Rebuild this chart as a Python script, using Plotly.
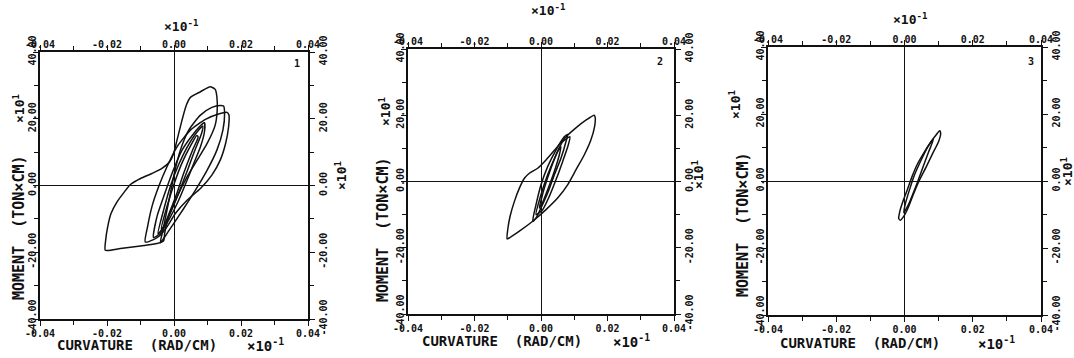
import plotly.graph_objects as go

W, H = 1074, 358

# ---- tick values / labels ----
curv_ticks = [-0.04, -0.02, 0.0, 0.02, 0.04]
curv_labels = ["-0.04", "-0.02", "0.00", "0.02", "0.04"]
mom_ticks = [-40, -20, 0, 20, 40]
mom_labels = ["-40.00", "-20.00", "0.00", "20.00", "40.00"]

# ---- panel 1 hysteresis loops (curvature x10^-1 rad/cm, moment x10 ton*cm) ----
loop1a_curv = [0.0108, 0.0123, 0.0128, 0.0129, 0.0123, 0.0099, 0.0069, 0.0039, 0.0009, -0.0016,
               -0.0028, -0.0031, -0.0051, -0.0100, -0.0160, -0.0205, -0.0204, -0.0198, -0.0188,
               -0.0170, -0.0148, -0.0130, -0.0100, -0.0066, -0.0036, -0.0013, -0.0001, 0.0009,
               0.0024, 0.0037, 0.0049, 0.0079, 0.0108]
loop1a_mom = [29.6, 28.8, 26.6, 22.6, 18.1, 12.6, 7.6, 2.6, -3.4, -9.4,
              -14.4, -16.6, -17.4, -18.1, -18.9, -19.4, -16.4, -12.4, -8.4,
              -4.9, -1.9, 0.3, 2.1, 3.6, 5.1, 7.1, 9.6, 13.6,
              19.6, 24.1, 26.4, 28.1, 29.6]

loop1b_curv = [-0.0041, -0.0033, -0.0023, -0.0011, 0.0001, 0.0019, 0.0044, 0.0079, 0.0113, 0.0138,
               0.0148, 0.0151, 0.0146, 0.0128, 0.0099, 0.0064, 0.0029, -0.0001, -0.0021, -0.0041]
loop1b_mom = [-17.2, -13.4, -8.4, -2.4, 3.6, 10.6, 16.6, 21.1, 23.4, 24.0,
              23.8, 21.6, 16.6, 10.6, 4.6, -1.4, -6.9, -11.4, -14.4, -17.2]

loop1c_curv = [-0.0086, -0.0079, -0.0066, -0.0046, -0.0021, 0.0009, 0.0049, 0.0094, 0.0133, 0.0158,
               0.0164, 0.0163, 0.0154, 0.0138, 0.0113, 0.0079, 0.0039, 0.0004, -0.0021, -0.0041,
               -0.0061, -0.0086]
loop1c_mom = [-16.9, -12.4, -6.4, -0.4, 5.6, 11.6, 16.6, 19.8, 21.4, 21.9,
              21.1, 17.6, 12.6, 7.6, 3.1, -0.9, -4.4, -8.4, -12.4, -14.9,
              -16.2, -16.9]

loop1d_curv = [-0.0061, -0.0051, -0.0031, -0.0006, 0.0024, 0.0059, 0.0084, 0.0091, 0.0091, 0.0079,
               0.0059, 0.0039, 0.0014, -0.0016, -0.0041, -0.0061]
loop1d_mom = [-15.6, -9.4, -3.4, 3.6, 10.6, 15.6, 18.4, 18.8, 16.1, 11.6,
              6.6, 1.6, -4.4, -10.4, -14.4, -15.6]

loop1e_curv = [-0.0048, -0.0030, -0.0010, 0.0015, 0.0045, 0.0075, 0.0086, 0.0082, 0.0062, 0.0040,
               0.0015, -0.0010, -0.0035, -0.0048]
loop1e_mom = [-14.5, -7.0, 0.0, 6.5, 12.5, 16.8, 17.8, 15.5, 10.5, 4.5,
              -2.0, -8.0, -13.0, -14.5]

loop1f_curv = [-0.0038, -0.0020, 0.0002, 0.0025, 0.0050, 0.0068, 0.0072, 0.0055, 0.0030, 0.0008,
               -0.0015, -0.0032, -0.0038]
loop1f_mom = [-13.0, -6.0, 1.0, 7.0, 12.0, 15.0, 14.5, 10.5, 4.0, -2.5,
              -8.5, -12.5, -13.0]

# ---- panel 2 loops ----
loop2a_curv = [0.0160, 0.0163, 0.0161, 0.0150, 0.0130, 0.0105, 0.0080, 0.0050, 0.0015, -0.0025,
               -0.0065, -0.0095, -0.0102, -0.0100, -0.0093, -0.0080, -0.0065, -0.0050, -0.0035,
               -0.0010, 0.0015, 0.0045, 0.0075, 0.0105, 0.0135, 0.0160]
loop2a_mom = [20.0, 19.3, 16.5, 12.5, 8.0, 3.5, -1.0, -5.0, -8.5, -12.0,
              -15.0, -17.0, -17.3, -14.5, -10.5, -6.0, -2.0, 1.0, 2.5,
              4.0, 6.5, 10.0, 13.5, 16.2, 18.5, 20.0]

loop2b_curv = [-0.0025, -0.0015, 0.0000, 0.0020, 0.0045, 0.0070, 0.0080, 0.0075, 0.0060, 0.0040,
               0.0020, 0.0000, -0.0015, -0.0025]
loop2b_mom = [-12.0, -7.0, -1.0, 4.5, 9.5, 13.5, 14.2, 12.0, 7.0, 2.0,
              -3.5, -8.0, -11.0, -12.0]

loop2c_curv = [-0.0015, 0.0000, 0.0020, 0.0045, 0.0065, 0.0087, 0.0082, 0.0065, 0.0045, 0.0025,
               0.0005, -0.0015]
loop2c_mom = [-10.0, -4.0, 2.0, 8.0, 12.0, 13.5, 11.0, 6.0, 0.5, -4.5,
              -8.5, -10.0]

loop2d_curv = [-0.0005, 0.0010, 0.0030, 0.0050, 0.0060, 0.0055, 0.0040, 0.0020, 0.0002, -0.0005]
loop2d_mom = [-8.0, -2.0, 4.0, 9.0, 10.5, 8.0, 3.0, -2.5, -7.0, -8.0]

# ---- panel 3 loops ----
loop3a_curv = [0.0103, 0.0106, 0.0100, 0.0083, 0.0064, 0.0044, 0.0027, 0.0012, 0.0000, -0.0012,
               -0.0017, -0.0014, -0.0005, 0.0008, 0.0022, 0.0039, 0.0059, 0.0078, 0.0093, 0.0103]
loop3a_mom = [15.0, 14.3, 11.8, 8.3, 4.3, 0.3, -3.7, -7.7, -10.2, -11.7,
              -11.2, -9.2, -6.2, -2.7, 1.3, 5.3, 8.8, 11.8, 13.8, 15.0]

loop3b_curv = [0.0085, 0.0070, 0.0050, 0.0030, 0.0012, -0.0002, 0.0002, 0.0015, 0.0030, 0.0050,
               0.0070, 0.0085]
loop3b_mom = [12.5, 8.5, 3.0, -2.5, -7.0, -9.5, -7.0, -2.5, 2.0, 6.5, 10.5, 12.5]

panel_loops = [
    [(loop1a_curv, loop1a_mom), (loop1b_curv, loop1b_mom), (loop1c_curv, loop1c_mom),
     (loop1d_curv, loop1d_mom), (loop1e_curv, loop1e_mom), (loop1f_curv, loop1f_mom)],
    [(loop2a_curv, loop2a_mom), (loop2b_curv, loop2b_mom), (loop2c_curv, loop2c_mom),
     (loop2d_curv, loop2d_mom)],
    [(loop3a_curv, loop3a_mom), (loop3b_curv, loop3b_mom)],
]
panel_numbers = ["1", "2", "3"]

# ---- layout geometry (pixels) ----
frames = [(40, 308, 52, 319), (408, 674, 49, 314), (768, 1041, 47, 315)]

FONT = "DejaVu Sans Mono"
INK = "#111111"


def fx(px):
    return px / W


def fy(py):
    return 1 - py / H


fig = go.Figure()
layout = dict(width=W, height=H, margin=dict(l=0, r=0, t=0, b=0, autoexpand=False),
              paper_bgcolor="white", plot_bgcolor="white", showlegend=False,
              font=dict(family=FONT, color=INK, size=10))

common_x = dict(range=[-0.04, 0.04], tickvals=curv_ticks, ticktext=curv_labels, automargin=False,
                ticks="outside", ticklen=5, tickwidth=1.3, tickcolor=INK,
                minor=dict(dtick=0.01, tick0=0, ticks="outside", ticklen=4, tickcolor=INK, tickwidth=1.2),
                showgrid=False, showline=True, linecolor=INK, linewidth=1.6,
                tickfont=dict(family=FONT, size=10, color=INK, weight="bold"), fixedrange=True)
common_y = dict(range=[-40, 40], tickvals=mom_ticks, ticktext=mom_labels, automargin=False,
                ticks="outside", ticklen=5, tickwidth=1.3, tickcolor=INK, tickangle=-90,
                minor=dict(dtick=10, tick0=0, ticks="outside", ticklen=4, tickcolor=INK, tickwidth=1.2),
                showgrid=False, showline=True, linecolor=INK, linewidth=1.6,
                tickfont=dict(family=FONT, size=10, color=INK, weight="bold"), fixedrange=True)

annotations = []


def note(text, px, py, size=10, angle=0):
    annotations.append(dict(text=text, x=fx(px), y=fy(py), xref="paper", yref="paper",
                            xanchor="center", yanchor="middle", showarrow=False, textangle=angle,
                            font=dict(family=FONT, size=size, color=INK, weight="bold")))


# text positions per panel
title_pos = [
    dict(bx=137, by=345, bm=265, top=(181, 26), lt=(19, 228), lm=(19, 109), rm=(341, 176), num=(297, 63)),
    dict(bx=502, by=341, bm=631, top=(548, 10), lt=(383, 230), lm=(385, 112), rm=(698, 175), num=(660, 62)),
    dict(bx=860, by=343, bm=996, top=(910, 19), lt=(743, 225), lm=(735, 105), rm=(1067, 172), num=(1031, 62)),
]

for i, (loops, (x0, x1, y0, y1)) in enumerate(zip(panel_loops, frames)):
    a = 2 * i + 1  # main axes
    b = 2 * i + 2  # overlay axes (top / right)
    xa, ya = f"x{a}", f"y{a}"
    xb, yb = f"x{b}", f"y{b}"
    xa_key = "xaxis" if a == 1 else f"xaxis{a}"
    ya_key = "yaxis" if a == 1 else f"yaxis{a}"

    layout[xa_key] = dict(common_x, domain=[fx(x0), fx(x1)], anchor=ya, side="bottom",
                          ticklabelstandoff=-1,
                          zeroline=True, zerolinecolor=INK, zerolinewidth=1.4)
    layout[ya_key] = dict(common_y, domain=[fy(y1), fy(y0)], anchor=xa, side="left",
                          ticklabelstandoff=-7,
                          zeroline=True, zerolinecolor=INK, zerolinewidth=1.4)
    layout[f"xaxis{b}"] = dict(common_x, overlaying=xa, anchor=yb, side="top", zeroline=False,
                               ticklabelstandoff=-7)
    layout[f"yaxis{b}"] = dict(common_y, overlaying=ya, anchor=xb, side="right", zeroline=False)

    for cx, my in loops:
        fig.add_trace(go.Scatter(x=cx, y=my, mode="lines", xaxis=xa, yaxis=ya,
                                 line=dict(color=INK, width=1.5, shape="spline", smoothing=0.6),
                                 hoverinfo="skip"))
    # keep the top/right axes active
    fig.add_trace(go.Scatter(x=[0], y=[0], mode="markers", xaxis=xb, yaxis=yb,
                             marker=dict(opacity=0), hoverinfo="skip"))

    t = title_pos[i]
    note("CURVATURE\u00a0\u00a0(RAD/CM)", t["bx"], t["by"], size=14)
    note("×10<sup>-1</sup>", t["bm"], t["by"], size=14)
    note("×10<sup>-1</sup>", t["top"][0], t["top"][1], size=13)
    note("MOMENT\u00a0\u00a0(TON×CM)", t["lt"][0], t["lt"][1], size=15, angle=-90)
    note("×10<sup>1</sup>", t["lm"][0], t["lm"][1], size=13, angle=-90)
    note("×10<sup>1</sup>", t["rm"][0], t["rm"][1], size=13, angle=-90)
    note(panel_numbers[i], t["num"][0], t["num"][1], size=10)

layout["annotations"] = annotations
fig.update_layout(**layout)
fig.write_html("out.html")
